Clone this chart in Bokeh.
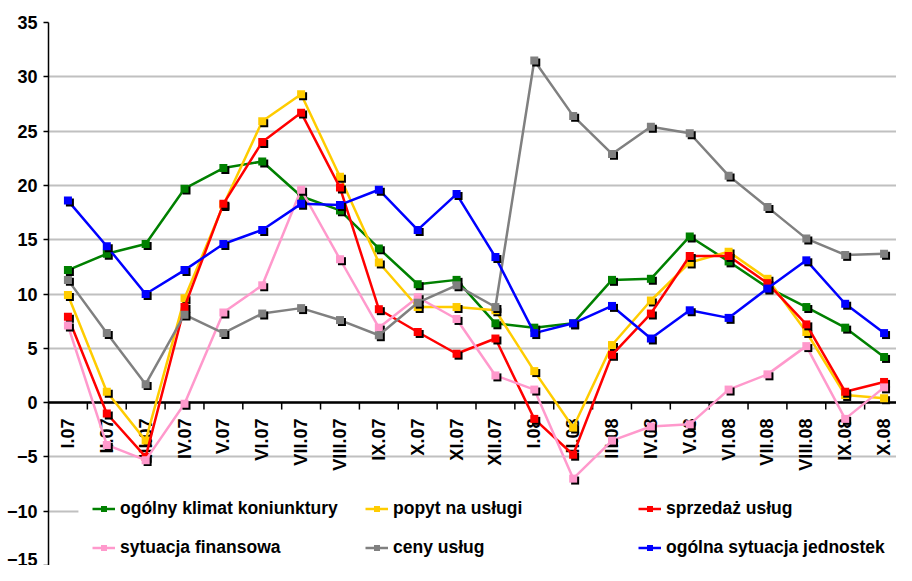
import numpy as np
from bokeh.plotting import figure
from bokeh.models import (Range1d, FixedTicker, Span, Legend, LegendItem,
                          BoxAnnotation, ColumnDataSource)
from bokeh.transform import dodge
from bokeh.core.properties import value
from bokeh.embed import file_html
from bokeh.resources import INLINE

# ---------------- data ----------------
months = ["I.07", "II.07", "III.07", "IV.07", "V.07", "VI.07", "VII.07", "VIII.07",
          "IX.07", "X.07", "XI.07", "XII.07", "I.08", "II.08", "III.08", "IV.08",
          "V.08", "VI.08", "VII.08", "VIII.08", "IX.08", "X.08"]

klimat = [12.2, 13.7, 14.6, 19.7, 21.6, 22.2, 19.0, 17.7, 14.2, 10.9, 11.3, 7.3,
          6.9, 7.3, 11.3, 11.4, 15.3, 13.0, 10.6, 8.8, 6.9, 4.2]
popyt = [9.9, 1.0, -3.5, 9.6, 18.2, 25.9, 28.4, 20.8, 12.9, 8.8, 8.8, 8.5,
         2.9, -2.3, 5.3, 9.4, 12.9, 13.9, 11.4, 6.5, 0.7, 0.4]
sprzedaz = [7.9, -1.0, -5.0, 8.8, 18.3, 24.0, 26.7, 19.8, 8.6, 6.5, 4.5, 5.9,
            -1.5, -4.8, 4.4, 8.2, 13.5, 13.5, 11.0, 7.2, 1.0, 1.9]
finansowa = [7.1, -3.9, -5.3, -0.1, 8.3, 10.8, 19.6, 13.2, 6.9, 9.7, 7.7, 2.5,
             1.2, -7.0, -3.5, -2.2, -2.0, 1.2, 2.6, 5.2, -1.5, 1.4]
ceny = [11.3, 6.4, 1.7, 8.1, 6.4, 8.2, 8.7, 7.6, 6.2, 9.2, 10.8, 8.8,
        31.5, 26.4, 22.9, 25.4, 24.8, 20.9, 18.0, 15.1, 13.6, 13.7]
jednostek = [18.6, 14.4, 10.0, 12.2, 14.6, 15.9, 18.3, 18.2, 19.6, 15.9, 19.2, 13.4,
             6.4, 7.3, 8.9, 5.9, 8.5, 7.8, 10.5, 13.1, 9.1, 6.4]

series_names = ["ogólny klimat koniunktury", "popyt na usługi", "sprzedaż usług",
                "sytuacja finansowa", "ceny usług", "ogólna sytuacja jednostek"]
series_values = [klimat, popyt, sprzedaz, finansowa, ceny, jednostek]
series_colors = ["#008000", "#FFCC00", "#FF0000", "#FF99CC", "#808080", "#0000FF"]

y_ticks = [-15, -10, -5, 0, 5, 10, 15, 20, 25, 30, 35]

FONT = "Liberation Sans"

# ---------------- figure ----------------
x = list(range(len(months)))

p = figure(width=896, height=565, output_backend="svg", toolbar_location=None,
           x_range=Range1d(-0.5, 21.32), y_range=Range1d(-15, 35),
           x_axis_location=None, min_border_left=48, min_border_right=0,
           min_border_top=22, min_border_bottom=0)
p.outline_line_color = None
p.background_fill_color = "white"
p.border_fill_color = "white"
p.xgrid.visible = False
p.ygrid.ticker = FixedTicker(ticks=y_ticks)
p.ygrid.grid_line_color = "#c0c0c0"
p.ygrid.grid_line_width = 2

yax = p.yaxis[0]
yax.ticker = FixedTicker(ticks=y_ticks)
yax.axis_line_color = "black"
yax.axis_line_width = 1.5
yax.major_tick_line_color = "black"
yax.major_tick_line_width = 1.5
yax.major_tick_out = 5
yax.major_tick_in = 0
yax.minor_tick_line_color = None
yax.major_label_standoff = 6
yax.major_label_text_font = FONT
yax.major_label_text_font_size = "18px"
yax.major_label_text_font_style = "bold"
yax.major_label_text_color = "black"

# zero axis line
p.add_layout(Span(location=0, dimension="width", line_color="black",
                  line_width=2.5, level="underlay"))

# tick marks on the category axis (category boundaries)
bounds = [i - 0.5 for i in range(len(months) + 1)]
p.segment(x0=bounds, y0=[0] * len(bounds), x1=bounds, y1=[-0.64] * len(bounds),
          line_color="black", line_width=1.5)

# category labels (rotated)
p.text(x=x, y=[0] * len(months), text=months, angle=np.pi / 2,
       text_align="right", text_baseline="middle", y_offset=16,
       text_font=value(FONT), text_font_size="18px", text_font_style="bold",
       text_color="black")

# series
legend_parts = []
for name, vals, color in zip(series_names, series_values, series_colors):
    src = ColumnDataSource(dict(x=x, y=vals))
    ln = p.line("x", "y", source=src, line_color=color, line_width=2.5)
    p.scatter(x=dodge("x", 0.051), y=dodge("y", -0.18), source=src, marker="square",
              size=8, fill_color="black", line_color=None)
    mk = p.scatter("x", "y", source=src, marker="square", size=8,
                   fill_color=color, line_color=None)
    legend_parts.append((name, ln, mk))

# white legend background
p.add_layout(BoxAnnotation(left=0.27, right=21.5, bottom=-14.8, top=-7.9,
                           fill_color="white", fill_alpha=1.0, line_color=None))

# legend in 3 columns
columns = [[0, 3], [1, 4], [2, 5]]
col_x = [44, 317, 590]
for cx, idxs in zip(col_x, columns):
    items = [LegendItem(label=legend_parts[i][0],
                        renderers=[legend_parts[i][1], legend_parts[i][2]])
             for i in idxs]
    leg = Legend(items=items, location=(cx, 7), orientation="vertical",
                 padding=0, margin=0, spacing=18, glyph_width=23, glyph_height=15,
                 label_height=20, label_standoff=5,
                 label_text_font=FONT, label_text_font_size="17.5px",
                 label_text_font_style="bold", label_text_color="black",
                 background_fill_alpha=0, border_line_alpha=0)
    p.add_layout(leg)

open("out.html", "w").write(file_html(p, INLINE))
